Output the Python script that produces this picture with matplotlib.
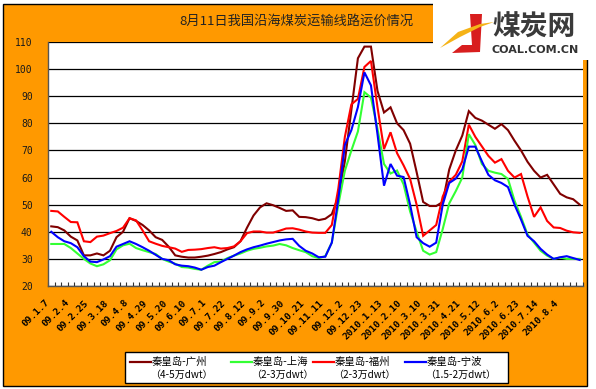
import matplotlib
matplotlib.use('Agg')
import matplotlib.pyplot as plt
import matplotlib.transforms as mtransforms
from matplotlib.patches import Rectangle, Polygon
from matplotlib.lines import Line2D
import numpy as np

plt.rcParams['font.family'] = ['Noto Sans CJK SC', 'DejaVu Sans']

title = '8月11日我国沿海煤炭运输线路运价情况'
tick_labels = ['09.1.7', '09.2.4', '09.2.25', '09.3.18', '09.4.8', '09.4.29', '09.5.20',
               '09.6.10', '09.7.1', '09.7.22', '09.8.12', '09.9.2', '09.9.30', '09.10.21',
               '09.11.11', '09.12.2', '09.12.23', '2010.1.13', '2010.2.10', '2010.3.10',
               '2010.3.31', '2010.4.21', '2010.5.12', '2010.6.2', '2010.6.23', '2010.7.14',
               '2010.8.4']

guangzhou = [42, 41.7, 40.5, 38.2, 36.8, 31.3, 31.3, 32, 31.3, 33, 38, 40, 45, 44, 42.5, 40.5,
             38, 37, 34.5, 31.3, 30.8, 30.5, 30.5, 30.8, 31.2, 31.8, 32.5, 33.5, 34.3, 36.5,
             41.5, 46, 49, 50.5, 49.8, 48.8, 47.7, 47.9, 45.5, 45.4, 45, 44.3, 44.8, 46.5, 53,
             66, 85, 104, 108.3, 108.3, 92, 84, 85.9, 80, 77.5, 72.5, 62, 51, 49.5, 49.5, 51,
             63, 70, 75.5, 84.5, 82, 81, 79.5, 78, 79.7, 77.5, 73.6, 70, 65.8, 62.5, 60, 61,
             57.5, 54, 52.7, 52, 50]
shanghai = [35.5, 35.5, 35.5, 34, 32, 30, 28.3, 27.3, 28, 29.5, 33.5, 35, 35.6, 34, 33.2, 32.5,
            31.8, 30, 29, 28.2, 27, 26.8, 26.3, 26, 27.5, 28.8, 29, 30.3, 31.2, 32, 33, 33.7,
            34.1, 34.6, 34.9, 35.5, 35, 34, 33.2, 32.5, 31, 30.3, 31, 36, 50, 62.5, 70, 77,
            91.5, 89.5, 78, 65, 61.5, 62.6, 57.5, 47.5, 40, 33, 31.6, 32.5, 41, 50.5, 55, 60,
            76, 72, 65, 62.5, 61.8, 61.3, 59.5, 51.5, 45.5, 39, 36, 33, 31.2, 30, 30.5, 30,
            30, 30]
fuzhou = [47.7, 47.5, 45.5, 43.6, 43.5, 36.5, 36.2, 38.2, 38.6, 39.5, 40.3, 41.5, 45, 44.2,
          40.5, 36.5, 35.6, 34.8, 34.3, 33.8, 32.6, 33.3, 33.4, 33.6, 34, 34.3, 33.8, 34, 34.6,
          36.5, 39.5, 40.1, 40.1, 39.7, 39.7, 40.4, 41.2, 41.3, 40.8, 40.1, 39.7, 39.6, 39.6,
          42.5, 56, 75, 87, 89, 100.8, 103, 86, 70.5, 76.7, 69, 64.5, 59.5, 50, 38.5, 40.5,
          42.5, 53, 58.5, 61, 66, 79.5, 75, 71.5, 68, 65.5, 66.8, 62.5, 60, 61.3, 53, 45.5,
          49, 44, 41.6, 41.4, 40.4, 39.8, 39.6]
ningbo = [40, 38, 36.5, 35.8, 34.3, 31, 29, 28.8, 29.8, 31, 34.5, 35.5, 36.5, 35.5, 34.3, 33,
          31.5, 30, 29.5, 28, 27.5, 27.3, 26.8, 26, 27, 27.5, 28.8, 30, 31.2, 32.5, 33.5, 34.3,
          34.9, 35.6, 36.2, 36.8, 37.2, 37.4, 34.8, 33, 32, 30.6, 30.8, 36, 52, 72, 77.5, 86,
          98.8, 94, 76, 57, 65, 60.7, 60.2, 50, 38, 35.8, 34.5, 36, 50, 58, 59.6, 63, 71.4,
          71.4, 66, 61, 59, 58, 56.5, 50, 44.5, 38.5, 36.5, 33.7, 31.6, 30, 30.6, 31, 30.3,
          29.6]

series = [guangzhou, shanghai, fuzhou, ningbo]
series_names = ['秦皇岛-广州', '秦皇岛-上海', '秦皇岛-福州', '秦皇岛-宁波']
series_sizes = ['（4-5万dwt）', '（2-3万dwt）', '（2-3万dwt）', '（1.5-2万dwt）']
colors = ['#800000', '#33FF33', '#FF0000', '#0000FF']
draw_order = [0, 2, 1, 3]

W, H = 596, 389
fig = plt.figure(figsize=(W / 100, H / 100), dpi=100)
fig.patch.set_facecolor('white')


def fx(px):
    return px / W


def fy(py):
    return 1 - py / H


ORANGE = '#FF9900'
fig.add_artist(Rectangle((fx(3), fy(386)), fx(587) - fx(3), fy(4) - fy(386),
                         transform=fig.transFigure, facecolor=ORANGE,
                         edgecolor='black', lw=1, zorder=0))

ax = fig.add_axes([fx(48), fy(286), fx(583) - fx(48), fy(42) - fy(286)])
ax.set_facecolor('white')

N = len(guangzhou)
x = np.arange(N)
for k in draw_order:
    ax.plot(x, series[k], color=colors[k], lw=1.5, solid_joinstyle='miter', zorder=3)

ax.set_xlim(-0.5, N - 0.5)
ax.set_ylim(20, 110)
ax.set_yticks(np.arange(20, 111, 10))
ax.yaxis.grid(True, color='black', lw=0.9)
ax.set_axisbelow(True)
ax.tick_params(axis='y', length=0, pad=11, labelsize=7, labelcolor='#1a1a1a')
for lbl in ax.get_yticklabels():
    lbl.set_family('DejaVu Sans Mono')

ax.set_xticks(np.arange(0, 3 * len(tick_labels), 3))
ax.set_xticklabels(tick_labels, rotation=45, ha='right', va='center',
                   rotation_mode='anchor', fontsize=6.8, fontweight='bold',
                   family='DejaVu Sans Mono', color='black')
ax.tick_params(axis='x', which='major', length=0, pad=11)
ax.set_xticks(np.arange(-0.5, N, 1), minor=True)
ax.tick_params(axis='x', which='minor', direction='in', length=3, width=0.8, color='#333333')
offset = mtransforms.ScaledTranslation(-3 / 100, 0, fig.dpi_scale_trans)
for lbl in ax.get_xticklabels():
    lbl.set_transform(lbl.get_transform() + offset)

for s in ['top', 'right']:
    ax.spines[s].set_visible(False)
for s in ['left', 'bottom']:
    ax.spines[s].set_color('#555555')
    ax.spines[s].set_linewidth(1)

# title
fig.text(fx(296), fy(21), title, ha='center', va='center', fontsize=9.5, color='#222222')

# logo area
fig.add_artist(Rectangle((fx(433), fy(60)), fx(596) - fx(433), fy(0) - fy(60),
                         transform=fig.transFigure, facecolor='white', edgecolor='none', zorder=1))
fig.add_artist(Polygon([(fx(470), fy(14)), (fx(482), fy(14)), (fx(480), fy(52)),
                        (fx(452), fy(53)), (fx(462), fy(45)), (fx(472), fy(45))],
                       closed=True, transform=fig.transFigure, facecolor='#D81E1E',
                       edgecolor='none', zorder=2))
fig.add_artist(Polygon([(fx(440), fy(48)), (fx(458), fy(32)), (fx(480), fy(24)),
                        (fx(494), fy(22)), (fx(480), fy(27)), (fx(460), fy(37))],
                       closed=True, transform=fig.transFigure, facecolor='#F5B317',
                       edgecolor='none', zorder=2))
fig.text(fx(534), fy(28), '煤炭网', ha='center', va='center', fontsize=20,
         fontweight='bold', color='#3a3a3a', zorder=3)
fig.text(fx(535), fy(50), 'COAL.COM.CN', ha='center', va='center', fontsize=8,
         fontweight='bold', color='#333333', family='DejaVu Sans', zorder=3)

# legend
fig.add_artist(Rectangle((fx(125), fy(383)), fx(508) - fx(125), fy(352) - fy(383),
                         transform=fig.transFigure, facecolor='white', edgecolor='black',
                         lw=1, zorder=2))
entry_x = [130, 231, 313, 405]
for k in range(4):
    x0 = entry_x[k]
    fig.add_artist(Line2D([fx(x0), fx(x0 + 21)], [fy(362), fy(362)], color=colors[k],
                          lw=1.6, transform=fig.transFigure, zorder=3))
    fig.text(fx(x0 + 22), fy(362), series_names[k], ha='left', va='center',
             fontsize=7.5, color='black', zorder=3)
    fig.text(fx(x0 + 20), fy(375), series_sizes[k], ha='left', va='center',
             fontsize=7.2, color='black', zorder=3)

fig.savefig('out.png', dpi=100, facecolor=fig.get_facecolor())
